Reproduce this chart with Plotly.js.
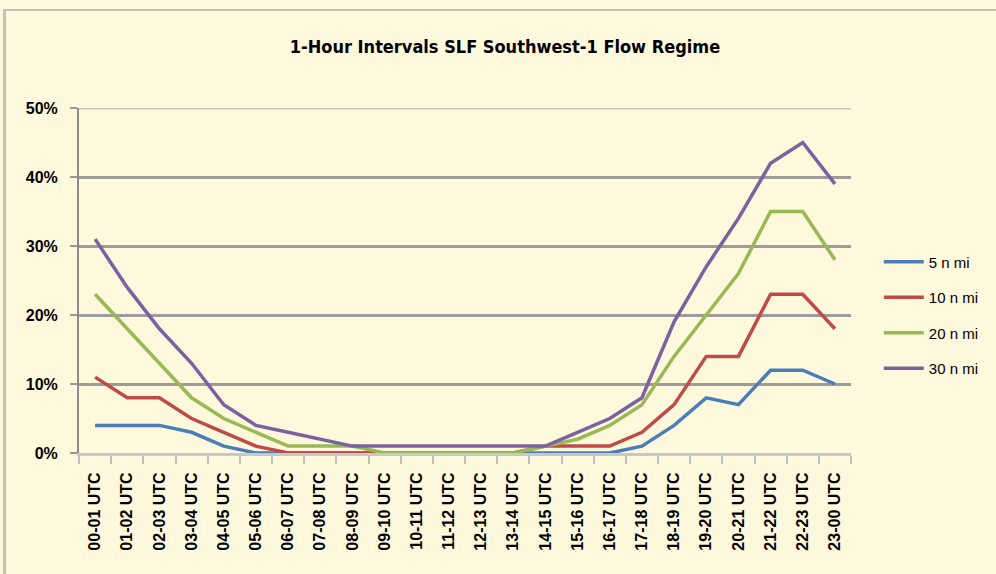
<!DOCTYPE html>
<html>
<head>
<meta charset="utf-8">
<script src="https://cdn.plot.ly/plotly-3.0.1.min.js"></script>
<style>
  html, body { margin: 0; padding: 0; background: #fef8dc; }
  #frame { position: absolute; left: 3px; top: 9px; width: 993px; height: 565px;
           border-top: 2px solid #c4c2b8; border-left: 3px solid #c4c2b8; box-sizing: border-box; }
  #chart { position: absolute; left: 0; top: 0; width: 996px; height: 574px; }
</style>
</head>
<body>
<div id="frame"></div>
<div id="chart"></div>
<script>
const hours = ['00-01 UTC', '01-02 UTC', '02-03 UTC', '03-04 UTC', '04-05 UTC', '05-06 UTC',
    '06-07 UTC', '07-08 UTC', '08-09 UTC', '09-10 UTC', '10-11 UTC', '11-12 UTC',
    '12-13 UTC', '13-14 UTC', '14-15 UTC', '15-16 UTC', '16-17 UTC', '17-18 UTC',
    '18-19 UTC', '19-20 UTC', '20-21 UTC', '21-22 UTC', '22-23 UTC', '23-00 UTC'];

// percent of hours
const nm5  = [4, 4, 4, 3, 1, 0, 0, 0, 0, 0, 0, 0, 0, 0, 0, 0, 0, 1, 4, 8, 7, 12, 12, 10];
const nm10 = [11, 8, 8, 5, 3, 1, 0, 0, 0, 0, 0, 0, 0, 0, 1, 1, 1, 3, 7, 14, 14, 23, 23, 18];
const nm20 = [23, 18, 13, 8, 5, 3, 1, 1, 1, 0, 0, 0, 0, 0, 1, 2, 4, 7, 14, 20, 26, 35, 35, 28];
const nm30 = [31, 24, 18, 13, 7, 4, 3, 2, 1, 1, 1, 1, 1, 1, 1, 3, 5, 8, 19, 27, 34, 42, 45, 39];

const yTicks = [0, 10, 20, 30, 40, 50];
const yTickText = ['0%', '10%', '20%', '30%', '40%', '50%'];

const seriesNames = ['5 n mi', '10 n mi', '20 n mi', '30 n mi'];
const seriesColors = ['#4a7ebb', '#be4b48', '#98b954', '#7d60a0'];

const TITLE_FONT = 'DejaVu Sans Condensed, sans-serif';
const FONT = 'Liberation Sans, Arial, sans-serif';

const traces = [nm5, nm10, nm20, nm30].map((vals, i) => ({
    x: hours,
    y: vals,
    name: seriesNames[i],
    legendgroup: 'g' + i,
    type: 'scatter',
    mode: 'lines',
    line: { color: seriesColors[i], width: 3.5 }
}));

const layout = {
    width: 996, height: 574,
    paper_bgcolor: 'rgba(0,0,0,0)',
    plot_bgcolor: 'rgba(0,0,0,0)',
    margin: { l: 79, r: 138, t: 108, b: 121 },
    title: {
        text: '1-Hour Intervals SLF Southwest-1 Flow Regime',
        font: { family: TITLE_FONT, size: 18, color: '#000', weight: 'bold' },
        x: 0.507, xanchor: 'center', y: 0.918, yanchor: 'middle'
    },
    xaxis: {
        type: 'category',
        tickangle: -90,
        tickson: 'boundaries',
        ticks: 'outside', ticklen: 8, tickcolor: '#c0c0c0', tickwidth: 2,
        ticklabelstandoff: 10,
        showline: true, linecolor: '#c8c8c8', linewidth: 3,
        showgrid: false, zeroline: false,
        tickfont: { family: FONT, size: 16, color: '#000', weight: 'bold' },
        range: [-0.5, 23.5]
    },
    yaxis: {
        range: [0, 50],
        tickmode: 'array',
        tickvals: yTicks,
        ticktext: yTickText,
        ticks: 'outside', ticklen: 7, tickcolor: '#999', tickwidth: 2,
        ticklabelstandoff: 9,
        showline: true, linecolor: '#8c8c8c', linewidth: 2,
        showgrid: true, gridcolor: '#9c9c9c', gridwidth: 3,
        zeroline: false,
        tickfont: { family: FONT, size: 16, color: '#000', weight: 'bold' }
    },
    shapes: [{
        type: 'line', xref: 'paper', yref: 'y',
        x0: 0, x1: 1, y0: 50, y1: 50,
        line: { color: '#c8c8c8', width: 3 },
        layer: 'below'
    }],
    legend: {
        x: 1.036, xanchor: 'left', y: 0.40, yanchor: 'middle',
        bgcolor: 'rgba(0,0,0,0)',
        tracegroupgap: 13, itemwidth: 40,
        font: { family: FONT, size: 15, color: '#000' }
    },
    showlegend: true
};

Plotly.newPlot('chart', traces, layout, { displayModeBar: false, staticPlot: true });
</script>
</body>
</html>
